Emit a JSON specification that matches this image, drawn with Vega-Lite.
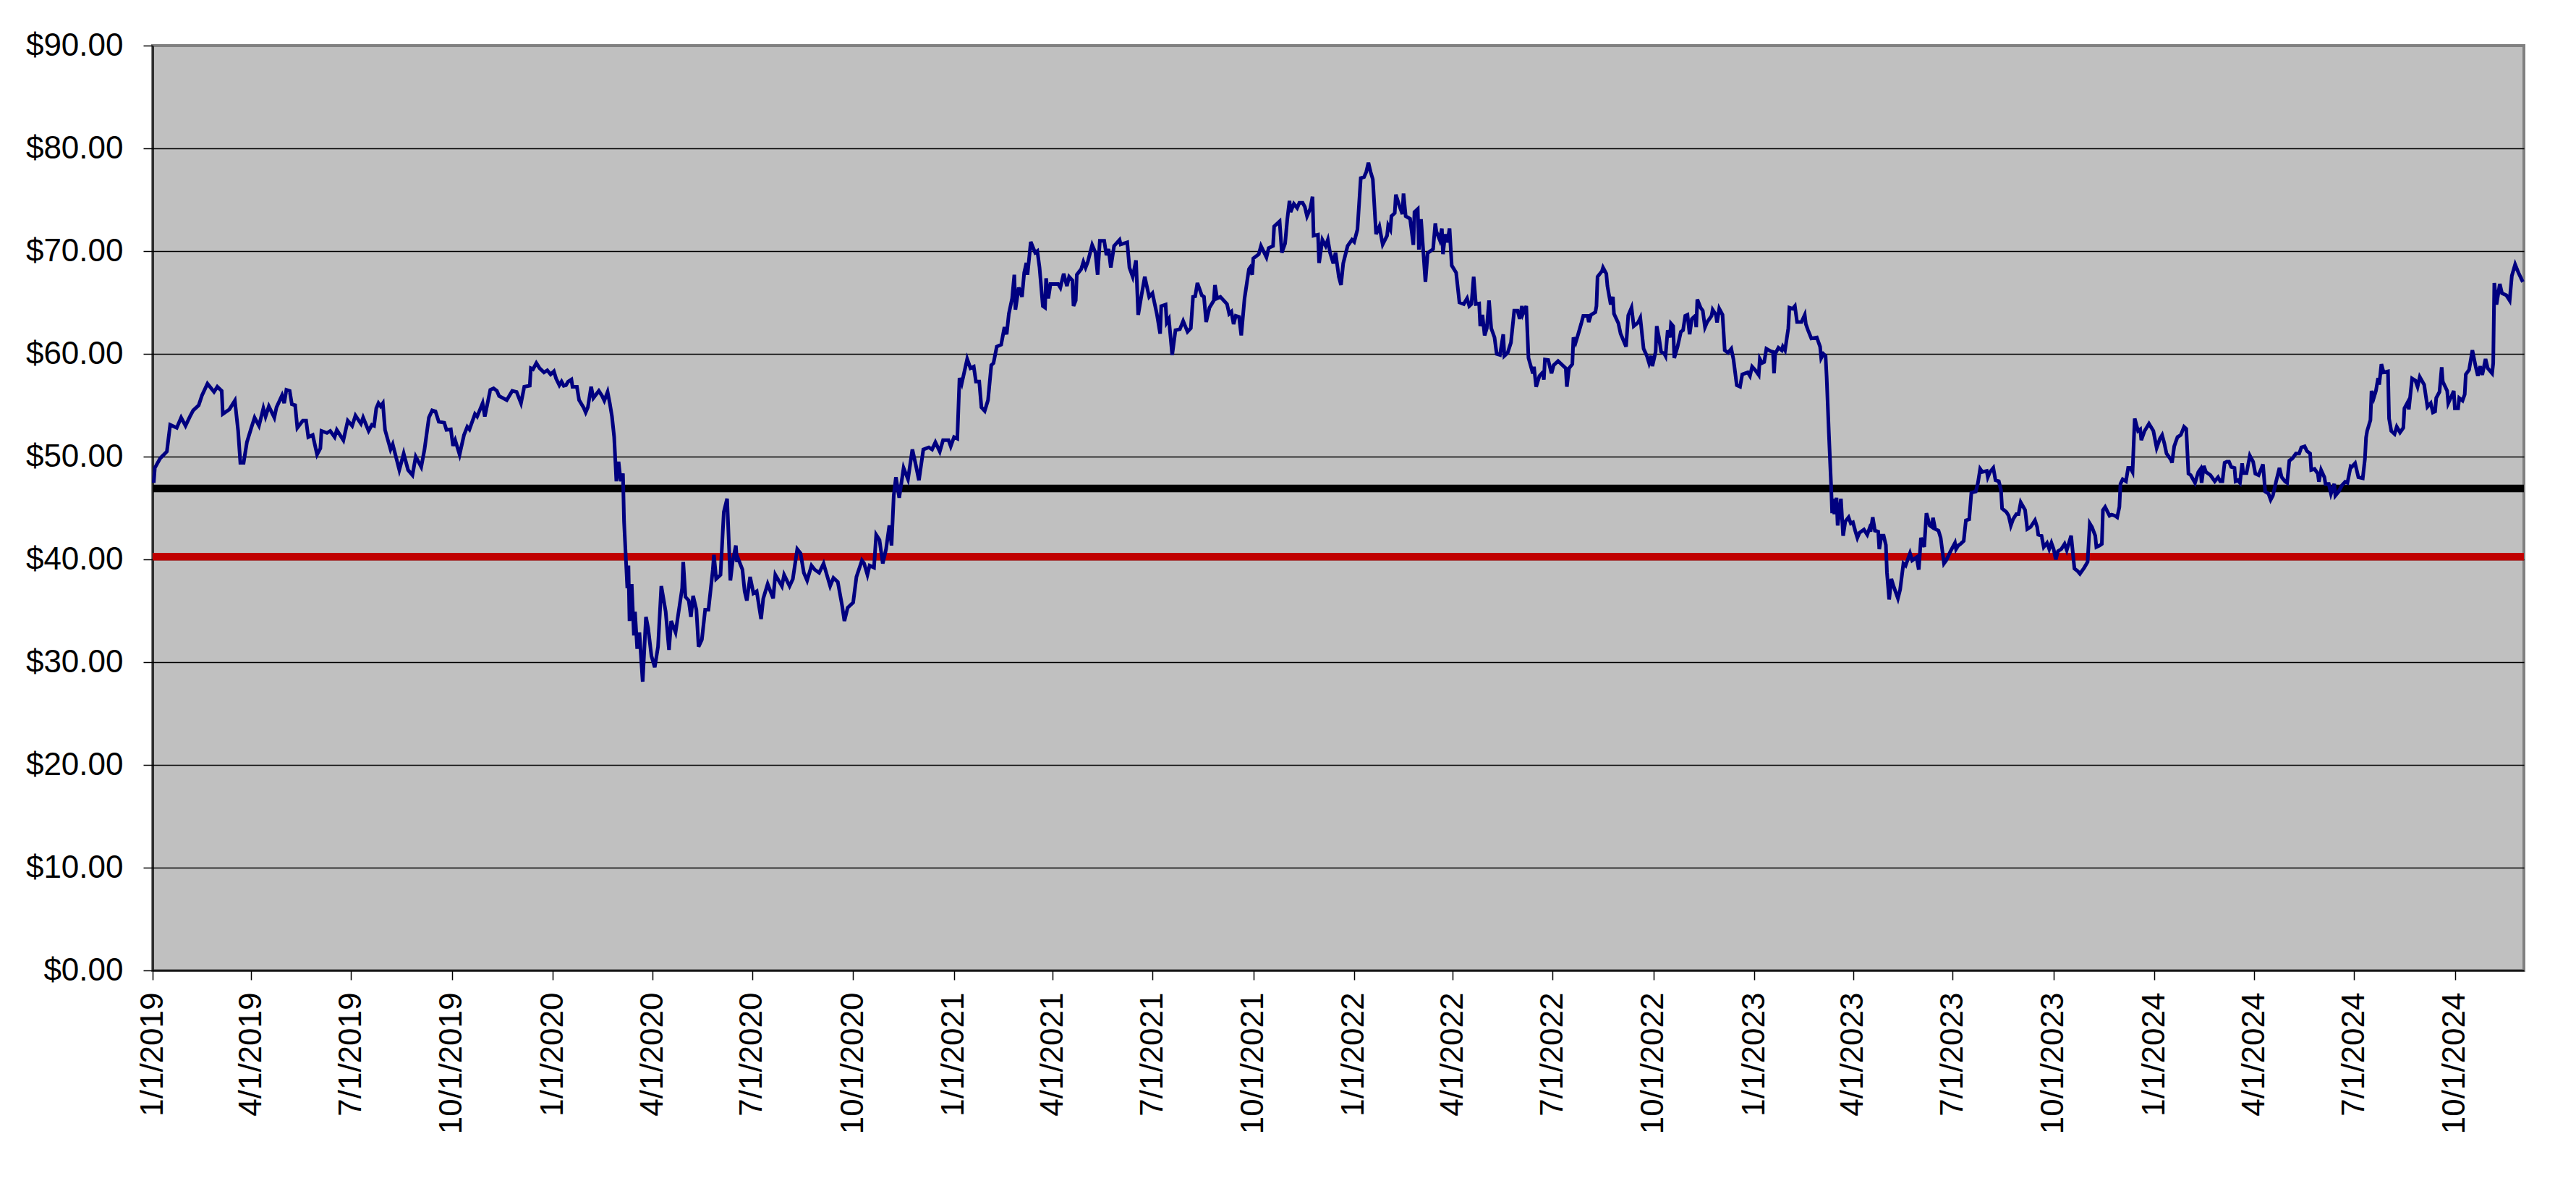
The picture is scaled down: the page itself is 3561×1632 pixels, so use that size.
{
  "$schema": "https://vega.github.io/schema/vega-lite/v6.json",
  "width": 3278,
  "height": 1278,
  "autosize": "none",
  "padding": {"left": 211, "top": 63, "right": 72, "bottom": 291},
  "background": "#ffffff",
  "datasets": {
    "close": [
      {"date":"2019-01-02","price":47.45},{"date":"2019-01-03","price":48.9},{"date":"2019-01-08","price":49.85},{"date":"2019-01-14","price":50.5},
      {"date":"2019-01-17","price":53.1},{"date":"2019-01-23","price":52.8},{"date":"2019-01-27","price":53.8},{"date":"2019-01-31","price":53.0},
      {"date":"2019-02-04","price":53.9},{"date":"2019-02-07","price":54.5},{"date":"2019-02-12","price":55.0},{"date":"2019-02-15","price":55.95},
      {"date":"2019-02-20","price":57.1},{"date":"2019-02-26","price":56.3},{"date":"2019-03-01","price":56.8},{"date":"2019-03-05","price":56.4},
      {"date":"2019-03-06","price":54.15},{"date":"2019-03-12","price":54.6},{"date":"2019-03-17","price":55.45},{"date":"2019-03-20","price":52.5},
      {"date":"2019-03-22","price":49.4},{"date":"2019-03-25","price":49.4},{"date":"2019-03-28","price":51.4},{"date":"2019-04-01","price":52.8},
      {"date":"2019-04-04","price":53.8},{"date":"2019-04-08","price":53.0},{"date":"2019-04-12","price":54.7},{"date":"2019-04-14","price":53.9},
      {"date":"2019-04-17","price":54.9},{"date":"2019-04-22","price":53.8},{"date":"2019-04-24","price":54.8},{"date":"2019-04-29","price":55.95},
      {"date":"2019-05-01","price":55.2},{"date":"2019-05-03","price":56.5},{"date":"2019-05-06","price":56.4},{"date":"2019-05-08","price":55.1},
      {"date":"2019-05-11","price":55.0},{"date":"2019-05-13","price":52.8},{"date":"2019-05-18","price":53.5},{"date":"2019-05-21","price":53.5},
      {"date":"2019-05-23","price":51.9},{"date":"2019-05-27","price":52.1},{"date":"2019-05-31","price":50.2},{"date":"2019-06-03","price":50.8},
      {"date":"2019-06-04","price":52.5},{"date":"2019-06-09","price":52.3},{"date":"2019-06-12","price":52.5},{"date":"2019-06-16","price":51.9},
      {"date":"2019-06-18","price":52.6},{"date":"2019-06-24","price":51.6},{"date":"2019-06-28","price":53.5},{"date":"2019-07-02","price":53.0},
      {"date":"2019-07-05","price":54.0},{"date":"2019-07-10","price":53.2},{"date":"2019-07-12","price":53.8},{"date":"2019-07-17","price":52.5},
      {"date":"2019-07-20","price":53.1},{"date":"2019-07-22","price":53.0},{"date":"2019-07-24","price":54.7},{"date":"2019-07-26","price":55.2},
      {"date":"2019-07-28","price":54.9},{"date":"2019-07-30","price":55.2},{"date":"2019-08-01","price":52.6},{"date":"2019-08-06","price":50.7},
      {"date":"2019-08-08","price":51.2},{"date":"2019-08-14","price":48.7},{"date":"2019-08-18","price":50.3},{"date":"2019-08-22","price":48.7},
      {"date":"2019-08-26","price":48.2},{"date":"2019-08-29","price":50.0},{"date":"2019-09-03","price":49.0},{"date":"2019-09-06","price":50.7},
      {"date":"2019-09-10","price":53.8},{"date":"2019-09-13","price":54.5},{"date":"2019-09-16","price":54.4},{"date":"2019-09-19","price":53.4},
      {"date":"2019-09-24","price":53.3},{"date":"2019-09-26","price":52.6},{"date":"2019-09-30","price":52.65},{"date":"2019-10-02","price":51.05},
      {"date":"2019-10-04","price":51.6},{"date":"2019-10-08","price":50.2},{"date":"2019-10-12","price":52.1},{"date":"2019-10-15","price":52.9},
      {"date":"2019-10-17","price":52.65},{"date":"2019-10-22","price":54.15},{"date":"2019-10-24","price":53.9},{"date":"2019-10-29","price":55.2},
      {"date":"2019-10-31","price":53.9},{"date":"2019-11-05","price":56.5},{"date":"2019-11-08","price":56.65},{"date":"2019-11-11","price":56.4},
      {"date":"2019-11-13","price":55.9},{"date":"2019-11-20","price":55.5},{"date":"2019-11-25","price":56.4},{"date":"2019-11-29","price":56.3},
      {"date":"2019-12-03","price":55.2},{"date":"2019-12-06","price":56.8},{"date":"2019-12-11","price":56.9},{"date":"2019-12-12","price":58.6},
      {"date":"2019-12-14","price":58.5},{"date":"2019-12-17","price":59.1},{"date":"2019-12-20","price":58.6},{"date":"2019-12-24","price":58.2},
      {"date":"2019-12-27","price":58.4},{"date":"2019-12-30","price":58.0},{"date":"2020-01-02","price":58.3},{"date":"2020-01-04","price":57.6},
      {"date":"2020-01-07","price":56.95},{"date":"2020-01-09","price":57.3},{"date":"2020-01-11","price":56.9},{"date":"2020-01-13","price":56.95},
      {"date":"2020-01-15","price":57.3},{"date":"2020-01-18","price":57.5},{"date":"2020-01-19","price":56.8},{"date":"2020-01-23","price":56.8},
      {"date":"2020-01-25","price":55.5},{"date":"2020-01-29","price":54.8},{"date":"2020-01-31","price":54.3},{"date":"2020-02-02","price":54.8},
      {"date":"2020-02-05","price":56.8},{"date":"2020-02-07","price":55.7},{"date":"2020-02-12","price":56.4},{"date":"2020-02-15","price":55.9},
      {"date":"2020-02-17","price":55.45},{"date":"2020-02-20","price":56.3},{"date":"2020-02-22","price":55.2},{"date":"2020-02-24","price":53.9},
      {"date":"2020-02-26","price":51.9},{"date":"2020-02-28","price":47.6},{"date":"2020-03-01","price":49.5},{"date":"2020-03-03","price":47.6},
      {"date":"2020-03-05","price":48.35},{"date":"2020-03-06","price":43.7},{"date":"2020-03-09","price":37.2},{"date":"2020-03-10","price":39.4},
      {"date":"2020-03-11","price":34.0},{"date":"2020-03-13","price":37.6},{"date":"2020-03-15","price":32.6},{"date":"2020-03-16","price":34.9},
      {"date":"2020-03-18","price":31.3},{"date":"2020-03-20","price":32.9},{"date":"2020-03-23","price":28.1},{"date":"2020-03-26","price":34.4},
      {"date":"2020-03-28","price":33.3},{"date":"2020-03-31","price":30.6},{"date":"2020-04-03","price":29.5},{"date":"2020-04-06","price":31.5},
      {"date":"2020-04-09","price":37.4},{"date":"2020-04-13","price":34.9},{"date":"2020-04-16","price":31.2},{"date":"2020-04-18","price":34.0},
      {"date":"2020-04-22","price":32.9},{"date":"2020-04-28","price":37.2},{"date":"2020-04-29","price":39.75},{"date":"2020-05-01","price":36.35},
      {"date":"2020-05-04","price":36.0},{"date":"2020-05-06","price":34.4},{"date":"2020-05-08","price":36.45},{"date":"2020-05-11","price":35.1},
      {"date":"2020-05-13","price":31.5},{"date":"2020-05-16","price":32.2},{"date":"2020-05-19","price":35.1},{"date":"2020-05-22","price":35.1},
      {"date":"2020-05-26","price":39.0},{"date":"2020-05-27","price":40.45},{"date":"2020-05-29","price":38.1},{"date":"2020-06-02","price":38.5},
      {"date":"2020-06-05","price":44.6},{"date":"2020-06-08","price":45.9},{"date":"2020-06-11","price":37.95},{"date":"2020-06-13","price":39.75},
      {"date":"2020-06-16","price":41.35},{"date":"2020-06-17","price":39.75},{"date":"2020-06-18","price":40.1},{"date":"2020-06-22","price":39.0},
      {"date":"2020-06-24","price":36.9},{"date":"2020-06-26","price":36.0},{"date":"2020-06-29","price":38.3},{"date":"2020-07-02","price":36.7},
      {"date":"2020-07-05","price":36.9},{"date":"2020-07-09","price":34.2},{"date":"2020-07-11","price":36.2},{"date":"2020-07-15","price":37.6},
      {"date":"2020-07-20","price":36.2},{"date":"2020-07-22","price":38.5},{"date":"2020-07-28","price":37.4},{"date":"2020-07-30","price":38.5},
      {"date":"2020-08-04","price":37.4},{"date":"2020-08-07","price":38.1},{"date":"2020-08-11","price":41.0},{"date":"2020-08-14","price":40.6},
      {"date":"2020-08-17","price":38.7},{"date":"2020-08-20","price":37.95},{"date":"2020-08-24","price":39.4},{"date":"2020-08-27","price":39.0},
      {"date":"2020-08-31","price":38.7},{"date":"2020-09-04","price":39.6},{"date":"2020-09-10","price":37.4},{"date":"2020-09-13","price":38.2},
      {"date":"2020-09-17","price":37.8},{"date":"2020-09-21","price":35.45},{"date":"2020-09-23","price":34.0},{"date":"2020-09-26","price":35.3},
      {"date":"2020-10-01","price":35.8},{"date":"2020-10-04","price":38.3},{"date":"2020-10-09","price":39.9},{"date":"2020-10-11","price":39.6},
      {"date":"2020-10-14","price":38.5},{"date":"2020-10-16","price":39.4},{"date":"2020-10-20","price":39.2},{"date":"2020-10-22","price":42.4},
      {"date":"2020-10-25","price":41.9},{"date":"2020-10-28","price":39.6},{"date":"2020-10-31","price":41.0},{"date":"2020-11-03","price":43.3},
      {"date":"2020-11-05","price":41.35},{"date":"2020-11-07","price":46.2},{"date":"2020-11-09","price":48.0},{"date":"2020-11-12","price":46.0},
      {"date":"2020-11-16","price":48.9},{"date":"2020-11-20","price":47.8},{"date":"2020-11-24","price":50.7},{"date":"2020-11-27","price":49.25},
      {"date":"2020-11-30","price":47.7},{"date":"2020-12-04","price":50.7},{"date":"2020-12-09","price":50.9},{"date":"2020-12-12","price":50.7},
      {"date":"2020-12-15","price":51.4},{"date":"2020-12-19","price":50.5},{"date":"2020-12-22","price":51.6},{"date":"2020-12-27","price":51.6},
      {"date":"2020-12-29","price":51.0},{"date":"2021-01-01","price":51.9},{"date":"2021-01-04","price":51.75},{"date":"2021-01-06","price":57.65},
      {"date":"2021-01-08","price":57.1},{"date":"2021-01-13","price":59.5},{"date":"2021-01-16","price":58.6},{"date":"2021-01-19","price":58.75},
      {"date":"2021-01-21","price":57.3},{"date":"2021-01-24","price":57.3},{"date":"2021-01-26","price":54.8},{"date":"2021-01-29","price":54.45},
      {"date":"2021-02-01","price":55.5},{"date":"2021-02-04","price":58.9},{"date":"2021-02-06","price":59.1},{"date":"2021-02-09","price":60.7},
      {"date":"2021-02-13","price":60.9},{"date":"2021-02-16","price":62.6},{"date":"2021-02-18","price":61.9},{"date":"2021-02-20","price":63.9},
      {"date":"2021-02-23","price":65.4},{"date":"2021-02-25","price":67.7},{"date":"2021-02-26","price":64.3},{"date":"2021-03-01","price":66.45},
      {"date":"2021-03-04","price":65.55},{"date":"2021-03-06","price":67.9},{"date":"2021-03-08","price":68.85},{"date":"2021-03-09","price":67.7},
      {"date":"2021-03-12","price":70.9},{"date":"2021-03-16","price":69.85},{"date":"2021-03-18","price":70.0},{"date":"2021-03-20","price":68.4},
      {"date":"2021-03-23","price":64.65},{"date":"2021-03-25","price":64.5},{"date":"2021-03-26","price":67.35},{"date":"2021-03-28","price":65.4},
      {"date":"2021-03-30","price":66.8},{"date":"2021-04-06","price":66.8},{"date":"2021-04-08","price":66.45},{"date":"2021-04-11","price":67.8},
      {"date":"2021-04-14","price":66.6},{"date":"2021-04-16","price":67.5},{"date":"2021-04-19","price":67.15},{"date":"2021-04-20","price":64.65},
      {"date":"2021-04-22","price":65.2},{"date":"2021-04-23","price":67.7},{"date":"2021-04-27","price":68.25},{"date":"2021-04-29","price":68.95},
      {"date":"2021-05-01","price":68.4},{"date":"2021-05-03","price":68.95},{"date":"2021-05-07","price":70.6},{"date":"2021-05-10","price":69.85},
      {"date":"2021-05-12","price":67.7},{"date":"2021-05-14","price":71.0},{"date":"2021-05-18","price":71.0},{"date":"2021-05-20","price":69.6},
      {"date":"2021-05-22","price":70.2},{"date":"2021-05-24","price":68.4},{"date":"2021-05-27","price":70.5},{"date":"2021-06-01","price":71.1},
      {"date":"2021-06-02","price":70.65},{"date":"2021-06-08","price":70.85},{"date":"2021-06-10","price":68.4},{"date":"2021-06-13","price":67.5},
      {"date":"2021-06-16","price":69.1},{"date":"2021-06-18","price":63.8},{"date":"2021-06-21","price":65.7},{"date":"2021-06-24","price":67.5},
      {"date":"2021-06-28","price":65.55},{"date":"2021-07-01","price":65.9},{"date":"2021-07-05","price":63.9},{"date":"2021-07-08","price":61.97},
      {"date":"2021-07-09","price":64.65},{"date":"2021-07-13","price":64.8},{"date":"2021-07-14","price":63.05},{"date":"2021-07-16","price":63.4},
      {"date":"2021-07-19","price":59.9},{"date":"2021-07-22","price":62.3},{"date":"2021-07-26","price":62.4},{"date":"2021-07-29","price":63.2},
      {"date":"2021-08-02","price":62.15},{"date":"2021-08-05","price":62.5},{"date":"2021-08-07","price":65.55},{"date":"2021-08-09","price":65.6},
      {"date":"2021-08-11","price":66.9},{"date":"2021-08-15","price":65.7},{"date":"2021-08-17","price":65.55},{"date":"2021-08-19","price":63.1},
      {"date":"2021-08-22","price":64.5},{"date":"2021-08-26","price":65.2},{"date":"2021-08-27","price":66.7},{"date":"2021-08-29","price":65.4},
      {"date":"2021-09-01","price":65.55},{"date":"2021-09-07","price":64.85},{"date":"2021-09-09","price":63.9},{"date":"2021-09-11","price":64.1},
      {"date":"2021-09-13","price":62.9},{"date":"2021-09-15","price":63.7},{"date":"2021-09-18","price":63.6},{"date":"2021-09-20","price":61.8},
      {"date":"2021-09-23","price":65.4},{"date":"2021-09-27","price":68.25},{"date":"2021-09-28","price":68.4},{"date":"2021-09-30","price":67.7},
      {"date":"2021-10-01","price":69.3},{"date":"2021-10-06","price":69.7},{"date":"2021-10-08","price":70.5},{"date":"2021-10-13","price":69.4},
      {"date":"2021-10-15","price":70.3},{"date":"2021-10-19","price":70.5},{"date":"2021-10-20","price":72.4},{"date":"2021-10-25","price":72.9},
      {"date":"2021-10-27","price":69.85},{"date":"2021-10-30","price":70.75},{"date":"2021-11-01","price":73.1},{"date":"2021-11-03","price":74.9},
      {"date":"2021-11-04","price":73.8},{"date":"2021-11-07","price":74.6},{"date":"2021-11-10","price":74.2},{"date":"2021-11-12","price":74.7},
      {"date":"2021-11-15","price":74.7},{"date":"2021-11-17","price":74.3},{"date":"2021-11-19","price":73.4},{"date":"2021-11-22","price":74.15},
      {"date":"2021-11-24","price":75.3},{"date":"2021-11-25","price":71.5},{"date":"2021-11-29","price":71.6},{"date":"2021-11-30","price":68.85},
      {"date":"2021-12-03","price":71.1},{"date":"2021-12-06","price":70.5},{"date":"2021-12-08","price":71.1},{"date":"2021-12-10","price":69.85},
      {"date":"2021-12-13","price":68.8},{"date":"2021-12-15","price":69.85},{"date":"2021-12-18","price":67.5},{"date":"2021-12-20","price":66.7},
      {"date":"2021-12-22","price":68.8},{"date":"2021-12-26","price":70.5},{"date":"2021-12-30","price":71.1},{"date":"2022-01-01","price":70.9},
      {"date":"2022-01-04","price":72.1},{"date":"2022-01-05","price":73.8},{"date":"2022-01-07","price":77.1},{"date":"2022-01-10","price":77.2},
      {"date":"2022-01-12","price":77.7},{"date":"2022-01-14","price":78.6},{"date":"2022-01-16","price":77.7},{"date":"2022-01-18","price":77.0},
      {"date":"2022-01-21","price":71.65},{"date":"2022-01-24","price":72.4},{"date":"2022-01-27","price":70.65},{"date":"2022-01-31","price":71.5},
      {"date":"2022-02-01","price":72.5},{"date":"2022-02-03","price":72.1},{"date":"2022-02-04","price":73.4},{"date":"2022-02-07","price":73.7},
      {"date":"2022-02-08","price":75.5},{"date":"2022-02-11","price":74.5},{"date":"2022-02-14","price":73.6},{"date":"2022-02-15","price":75.6},
      {"date":"2022-02-17","price":73.4},{"date":"2022-02-21","price":73.15},{"date":"2022-02-24","price":70.6},{"date":"2022-02-25","price":73.8},
      {"date":"2022-02-28","price":74.1},{"date":"2022-03-01","price":70.15},{"date":"2022-03-03","price":73.1},{"date":"2022-03-07","price":67.0},
      {"date":"2022-03-09","price":69.8},{"date":"2022-03-14","price":70.2},{"date":"2022-03-16","price":72.7},{"date":"2022-03-17","price":71.9},
      {"date":"2022-03-20","price":71.1},{"date":"2022-03-22","price":72.2},{"date":"2022-03-23","price":69.7},{"date":"2022-03-25","price":71.65},
      {"date":"2022-03-27","price":70.85},{"date":"2022-03-29","price":72.2},{"date":"2022-03-31","price":68.6},{"date":"2022-04-04","price":67.9},
      {"date":"2022-04-07","price":65.0},{"date":"2022-04-11","price":64.85},{"date":"2022-04-14","price":65.4},{"date":"2022-04-16","price":64.65},
      {"date":"2022-04-18","price":64.85},{"date":"2022-04-20","price":67.5},{"date":"2022-04-22","price":64.85},{"date":"2022-04-25","price":64.9},
      {"date":"2022-04-26","price":62.7},{"date":"2022-04-28","price":63.8},{"date":"2022-04-30","price":61.8},{"date":"2022-05-02","price":62.5},
      {"date":"2022-05-04","price":65.2},{"date":"2022-05-06","price":62.5},{"date":"2022-05-09","price":61.6},{"date":"2022-05-11","price":60.0},
      {"date":"2022-05-14","price":59.9},{"date":"2022-05-17","price":61.9},{"date":"2022-05-18","price":59.8},{"date":"2022-05-21","price":60.1},
      {"date":"2022-05-24","price":61.1},{"date":"2022-05-27","price":64.2},{"date":"2022-05-30","price":64.2},{"date":"2022-06-01","price":63.4},
      {"date":"2022-06-03","price":64.65},{"date":"2022-06-04","price":63.9},{"date":"2022-06-07","price":64.65},{"date":"2022-06-09","price":59.6},
      {"date":"2022-06-13","price":58.1},{"date":"2022-06-14","price":58.75},{"date":"2022-06-16","price":56.8},{"date":"2022-06-19","price":57.85},
      {"date":"2022-06-22","price":58.2},{"date":"2022-06-23","price":57.5},{"date":"2022-06-24","price":59.45},{"date":"2022-06-27","price":59.4},
      {"date":"2022-06-30","price":58.1},{"date":"2022-07-02","price":58.9},{"date":"2022-07-06","price":59.3},{"date":"2022-07-13","price":58.6},
      {"date":"2022-07-14","price":56.8},{"date":"2022-07-16","price":58.6},{"date":"2022-07-19","price":59.0},{"date":"2022-07-20","price":61.6},
      {"date":"2022-07-22","price":61.1},{"date":"2022-07-24","price":61.8},{"date":"2022-07-27","price":62.9},{"date":"2022-07-29","price":63.7},
      {"date":"2022-08-02","price":63.7},{"date":"2022-08-03","price":63.1},{"date":"2022-08-05","price":63.8},{"date":"2022-08-09","price":64.05},
      {"date":"2022-08-10","price":64.65},{"date":"2022-08-11","price":67.5},{"date":"2022-08-15","price":68.05},{"date":"2022-08-16","price":68.4},
      {"date":"2022-08-19","price":67.8},{"date":"2022-08-20","price":66.6},{"date":"2022-08-23","price":64.8},{"date":"2022-08-25","price":65.55},
      {"date":"2022-08-26","price":63.9},{"date":"2022-08-30","price":62.98},{"date":"2022-09-01","price":61.97},{"date":"2022-09-06","price":60.7},
      {"date":"2022-09-08","price":63.75},{"date":"2022-09-11","price":64.5},{"date":"2022-09-13","price":62.7},{"date":"2022-09-17","price":63.05},
      {"date":"2022-09-19","price":63.5},{"date":"2022-09-22","price":60.5},{"date":"2022-09-25","price":59.8},{"date":"2022-09-27","price":59.1},
      {"date":"2022-09-29","price":59.8},{"date":"2022-09-30","price":58.8},{"date":"2022-10-03","price":60.2},{"date":"2022-10-04","price":62.7},
      {"date":"2022-10-06","price":61.6},{"date":"2022-10-08","price":60.2},{"date":"2022-10-11","price":60.0},{"date":"2022-10-12","price":59.8},
      {"date":"2022-10-14","price":62.3},{"date":"2022-10-16","price":61.6},{"date":"2022-10-17","price":62.95},{"date":"2022-10-19","price":62.7},
      {"date":"2022-10-20","price":59.6},{"date":"2022-10-23","price":60.7},{"date":"2022-10-26","price":62.15},{"date":"2022-10-28","price":62.3},
      {"date":"2022-10-30","price":63.7},{"date":"2022-11-01","price":63.8},{"date":"2022-11-03","price":61.9},{"date":"2022-11-05","price":63.4},
      {"date":"2022-11-08","price":63.7},{"date":"2022-11-09","price":62.6},{"date":"2022-11-10","price":65.3},{"date":"2022-11-13","price":64.5},
      {"date":"2022-11-15","price":64.2},{"date":"2022-11-17","price":62.6},{"date":"2022-11-19","price":63.1},{"date":"2022-11-23","price":63.7},
      {"date":"2022-11-24","price":64.3},{"date":"2022-11-27","price":63.8},{"date":"2022-11-28","price":63.05},{"date":"2022-11-30","price":64.4},
      {"date":"2022-12-03","price":63.8},{"date":"2022-12-05","price":60.35},{"date":"2022-12-08","price":60.1},{"date":"2022-12-11","price":60.5},
      {"date":"2022-12-13","price":59.45},{"date":"2022-12-16","price":56.95},{"date":"2022-12-19","price":56.8},{"date":"2022-12-21","price":58.0},
      {"date":"2022-12-26","price":58.2},{"date":"2022-12-28","price":57.85},{"date":"2022-12-30","price":58.75},{"date":"2023-01-02","price":58.4},
      {"date":"2023-01-05","price":57.95},{"date":"2023-01-06","price":59.5},{"date":"2023-01-08","price":59.1},{"date":"2023-01-10","price":59.2},
      {"date":"2023-01-12","price":60.5},{"date":"2023-01-16","price":60.25},{"date":"2023-01-18","price":60.2},{"date":"2023-01-19","price":58.1},
      {"date":"2023-01-20","price":60.0},{"date":"2023-01-23","price":60.6},{"date":"2023-01-26","price":60.35},{"date":"2023-01-27","price":60.7},
      {"date":"2023-01-29","price":60.35},{"date":"2023-02-01","price":62.5},{"date":"2023-02-02","price":64.5},{"date":"2023-02-05","price":64.4},
      {"date":"2023-02-07","price":64.65},{"date":"2023-02-09","price":63.1},{"date":"2023-02-13","price":63.1},{"date":"2023-02-16","price":63.8},
      {"date":"2023-02-17","price":62.9},{"date":"2023-02-19","price":62.3},{"date":"2023-02-22","price":61.5},{"date":"2023-02-27","price":61.6},
      {"date":"2023-03-02","price":60.7},{"date":"2023-03-03","price":59.6},{"date":"2023-03-05","price":60.0},{"date":"2023-03-07","price":59.8},
      {"date":"2023-03-08","price":57.7},{"date":"2023-03-10","price":52.3},{"date":"2023-03-12","price":47.3},{"date":"2023-03-13","price":44.5},
      {"date":"2023-03-14","price":45.9},{"date":"2023-03-15","price":44.4},{"date":"2023-03-17","price":46.0},{"date":"2023-03-18","price":43.3},
      {"date":"2023-03-21","price":45.9},{"date":"2023-03-23","price":42.3},{"date":"2023-03-25","price":43.7},{"date":"2023-03-28","price":44.1},
      {"date":"2023-03-30","price":43.5},{"date":"2023-04-01","price":43.6},{"date":"2023-04-03","price":42.8},{"date":"2023-04-05","price":42.1},
      {"date":"2023-04-07","price":42.6},{"date":"2023-04-11","price":42.9},{"date":"2023-04-14","price":42.4},{"date":"2023-04-16","price":43.0},
      {"date":"2023-04-17","price":42.7},{"date":"2023-04-19","price":44.1},{"date":"2023-04-21","price":42.8},{"date":"2023-04-24","price":42.7},
      {"date":"2023-04-25","price":41.0},{"date":"2023-04-27","price":42.3},{"date":"2023-04-29","price":42.3},{"date":"2023-05-01","price":41.4},
      {"date":"2023-05-02","price":38.7},{"date":"2023-05-04","price":36.1},{"date":"2023-05-06","price":38.1},{"date":"2023-05-08","price":37.4},
      {"date":"2023-05-12","price":36.2},{"date":"2023-05-14","price":37.05},{"date":"2023-05-17","price":39.6},{"date":"2023-05-19","price":39.4},
      {"date":"2023-05-23","price":40.6},{"date":"2023-05-25","price":39.9},{"date":"2023-05-29","price":40.2},{"date":"2023-05-31","price":39.0},
      {"date":"2023-06-02","price":42.1},{"date":"2023-06-05","price":41.2},{"date":"2023-06-07","price":44.5},{"date":"2023-06-10","price":43.3},
      {"date":"2023-06-12","price":43.15},{"date":"2023-06-13","price":44.05},{"date":"2023-06-15","price":42.95},{"date":"2023-06-18","price":42.8},
      {"date":"2023-06-20","price":42.1},{"date":"2023-06-23","price":39.6},{"date":"2023-06-25","price":39.9},{"date":"2023-06-29","price":40.8},
      {"date":"2023-07-01","price":41.2},{"date":"2023-07-03","price":41.6},{"date":"2023-07-04","price":41.0},{"date":"2023-07-06","price":41.35},
      {"date":"2023-07-08","price":41.5},{"date":"2023-07-11","price":41.8},{"date":"2023-07-13","price":43.8},{"date":"2023-07-16","price":43.9},
      {"date":"2023-07-18","price":46.5},{"date":"2023-07-22","price":46.6},{"date":"2023-07-24","price":47.45},{"date":"2023-07-26","price":48.8},
      {"date":"2023-07-28","price":48.5},{"date":"2023-08-01","price":48.6},{"date":"2023-08-02","price":48.0},{"date":"2023-08-04","price":48.5},
      {"date":"2023-08-07","price":48.9},{"date":"2023-08-09","price":47.7},{"date":"2023-08-12","price":47.6},{"date":"2023-08-14","price":46.75},
      {"date":"2023-08-15","price":44.95},{"date":"2023-08-19","price":44.6},{"date":"2023-08-21","price":44.25},{"date":"2023-08-23","price":43.3},
      {"date":"2023-08-25","price":43.9},{"date":"2023-08-28","price":44.4},{"date":"2023-08-30","price":44.4},{"date":"2023-09-01","price":45.55},
      {"date":"2023-09-05","price":44.8},{"date":"2023-09-07","price":42.95},{"date":"2023-09-10","price":43.15},{"date":"2023-09-14","price":43.8},
      {"date":"2023-09-16","price":43.15},{"date":"2023-09-17","price":42.4},{"date":"2023-09-20","price":42.3},{"date":"2023-09-22","price":41.2},
      {"date":"2023-09-25","price":41.6},{"date":"2023-09-27","price":41.0},{"date":"2023-09-29","price":41.6},{"date":"2023-10-01","price":41.0},
      {"date":"2023-10-03","price":40.0},{"date":"2023-10-05","price":40.8},{"date":"2023-10-08","price":41.0},{"date":"2023-10-11","price":41.5},
      {"date":"2023-10-13","price":40.9},{"date":"2023-10-17","price":42.3},{"date":"2023-10-20","price":39.1},{"date":"2023-10-23","price":38.85},
      {"date":"2023-10-25","price":38.6},{"date":"2023-10-29","price":39.2},{"date":"2023-11-01","price":39.75},{"date":"2023-11-03","price":43.5},
      {"date":"2023-11-05","price":43.15},{"date":"2023-11-08","price":42.3},{"date":"2023-11-09","price":41.2},{"date":"2023-11-12","price":41.35},
      {"date":"2023-11-14","price":41.5},{"date":"2023-11-15","price":44.8},{"date":"2023-11-17","price":45.1},{"date":"2023-11-21","price":44.25},
      {"date":"2023-11-23","price":44.35},{"date":"2023-11-26","price":44.25},{"date":"2023-11-28","price":44.1},{"date":"2023-11-30","price":45.1},
      {"date":"2023-12-01","price":47.35},{"date":"2023-12-03","price":47.8},{"date":"2023-12-06","price":47.6},{"date":"2023-12-08","price":48.9},
      {"date":"2023-12-10","price":48.9},{"date":"2023-12-12","price":48.5},{"date":"2023-12-14","price":53.7},{"date":"2023-12-17","price":52.5},
      {"date":"2023-12-19","price":52.65},{"date":"2023-12-20","price":51.6},{"date":"2023-12-23","price":52.5},{"date":"2023-12-27","price":53.2},
      {"date":"2023-12-31","price":52.5},{"date":"2024-01-03","price":50.85},{"date":"2024-01-06","price":51.75},{"date":"2024-01-08","price":52.1},
      {"date":"2024-01-10","price":51.3},{"date":"2024-01-12","price":50.3},{"date":"2024-01-16","price":49.7},{"date":"2024-01-17","price":49.4},
      {"date":"2024-01-19","price":51.0},{"date":"2024-01-22","price":51.9},{"date":"2024-01-25","price":52.1},{"date":"2024-01-28","price":52.9},
      {"date":"2024-01-30","price":52.7},{"date":"2024-02-01","price":48.35},{"date":"2024-02-03","price":48.2},{"date":"2024-02-07","price":47.45},
      {"date":"2024-02-10","price":48.5},{"date":"2024-02-12","price":48.8},{"date":"2024-02-13","price":47.45},{"date":"2024-02-15","price":49.1},
      {"date":"2024-02-17","price":48.5},{"date":"2024-02-21","price":48.2},{"date":"2024-02-25","price":47.6},{"date":"2024-02-28","price":48.0},
      {"date":"2024-03-01","price":47.6},{"date":"2024-03-03","price":47.6},{"date":"2024-03-05","price":49.4},{"date":"2024-03-07","price":49.5},
      {"date":"2024-03-09","price":49.5},{"date":"2024-03-11","price":49.0},{"date":"2024-03-14","price":48.9},{"date":"2024-03-15","price":47.6},
      {"date":"2024-03-17","price":47.7},{"date":"2024-03-19","price":47.45},{"date":"2024-03-21","price":49.35},{"date":"2024-03-22","price":48.4},
      {"date":"2024-03-25","price":48.4},{"date":"2024-03-28","price":50.1},{"date":"2024-03-31","price":49.5},{"date":"2024-04-02","price":48.35},
      {"date":"2024-04-05","price":48.2},{"date":"2024-04-09","price":49.25},{"date":"2024-04-11","price":46.6},{"date":"2024-04-14","price":46.4},
      {"date":"2024-04-16","price":45.8},{"date":"2024-04-18","price":46.2},{"date":"2024-04-21","price":47.6},{"date":"2024-04-24","price":48.9},
      {"date":"2024-04-26","price":48.0},{"date":"2024-04-29","price":47.6},{"date":"2024-05-01","price":47.45},{"date":"2024-05-03","price":49.6},
      {"date":"2024-05-06","price":49.85},{"date":"2024-05-09","price":50.3},{"date":"2024-05-12","price":50.3},{"date":"2024-05-14","price":50.9},
      {"date":"2024-05-17","price":51.0},{"date":"2024-05-19","price":50.55},{"date":"2024-05-22","price":50.3},{"date":"2024-05-23","price":48.7},
      {"date":"2024-05-26","price":48.8},{"date":"2024-05-29","price":48.35},{"date":"2024-05-30","price":47.55},{"date":"2024-06-01","price":48.7},
      {"date":"2024-06-04","price":48.0},{"date":"2024-06-05","price":47.35},{"date":"2024-06-08","price":47.35},{"date":"2024-06-10","price":46.4},
      {"date":"2024-06-13","price":47.35},{"date":"2024-06-14","price":46.2},{"date":"2024-06-17","price":46.6},{"date":"2024-06-20","price":47.2},
      {"date":"2024-06-23","price":47.55},{"date":"2024-06-25","price":47.45},{"date":"2024-06-28","price":49.05},{"date":"2024-06-29","price":49.0},
      {"date":"2024-07-02","price":49.35},{"date":"2024-07-05","price":48.0},{"date":"2024-07-09","price":47.9},{"date":"2024-07-11","price":49.8},
      {"date":"2024-07-12","price":51.85},{"date":"2024-07-13","price":52.5},{"date":"2024-07-16","price":53.55},{"date":"2024-07-17","price":56.4},
      {"date":"2024-07-19","price":55.7},{"date":"2024-07-21","price":56.4},{"date":"2024-07-23","price":57.65},{"date":"2024-07-24","price":57.0},
      {"date":"2024-07-26","price":59.0},{"date":"2024-07-28","price":58.2},{"date":"2024-08-01","price":58.3},{"date":"2024-08-02","price":53.7},
      {"date":"2024-08-04","price":52.5},{"date":"2024-08-07","price":52.2},{"date":"2024-08-09","price":52.9},{"date":"2024-08-12","price":52.35},
      {"date":"2024-08-15","price":52.8},{"date":"2024-08-16","price":54.7},{"date":"2024-08-19","price":55.3},{"date":"2024-08-20","price":54.6},
      {"date":"2024-08-23","price":57.6},{"date":"2024-08-26","price":57.4},{"date":"2024-08-28","price":56.8},{"date":"2024-08-30","price":57.75},
      {"date":"2024-09-03","price":57.0},{"date":"2024-09-06","price":54.85},{"date":"2024-09-09","price":55.2},{"date":"2024-09-11","price":54.3},
      {"date":"2024-09-13","price":54.4},{"date":"2024-09-14","price":55.7},{"date":"2024-09-17","price":56.3},{"date":"2024-09-19","price":58.7},
      {"date":"2024-09-20","price":57.3},{"date":"2024-09-24","price":56.4},{"date":"2024-09-25","price":55.2},{"date":"2024-09-28","price":55.9},
      {"date":"2024-09-30","price":56.4},{"date":"2024-10-01","price":54.7},{"date":"2024-10-04","price":54.7},{"date":"2024-10-05","price":55.7},
      {"date":"2024-10-08","price":55.45},{"date":"2024-10-10","price":56.05},{"date":"2024-10-11","price":58.0},{"date":"2024-10-14","price":58.45},
      {"date":"2024-10-17","price":60.35},{"date":"2024-10-20","price":58.75},{"date":"2024-10-22","price":57.85},{"date":"2024-10-24","price":58.8},
      {"date":"2024-10-26","price":57.95},{"date":"2024-10-29","price":59.5},{"date":"2024-10-31","price":58.6},{"date":"2024-11-04","price":58.1},
      {"date":"2024-11-05","price":59.1},{"date":"2024-11-06","price":66.9},{"date":"2024-11-08","price":64.8},{"date":"2024-11-11","price":66.8},
      {"date":"2024-11-13","price":65.9},{"date":"2024-11-17","price":65.7},{"date":"2024-11-20","price":65.2},{"date":"2024-11-22","price":67.6},
      {"date":"2024-11-25","price":68.7},{"date":"2024-11-28","price":67.9},{"date":"2024-12-02","price":67.0}
    ],
    "upper": [{"level": "upper", "price": 46.9}],
    "lower": [{"level": "lower", "price": 40.27}]
  },
  "config": {
    "font": "Liberation Sans",
    "view": {"fill": "#c0c0c0", "stroke": "#808080", "strokeWidth": 4},
    "axis": {
      "title": null,
      "labelFont": "Liberation Sans",
      "labelFontSize": 44,
      "labelLimit": 0,
      "labelColor": "#000000",
      "tickColor": "#000000",
      "tickWidth": 1.5,
      "tickSize": 13,
      "domainColor": "#000000",
      "domainWidth": 2
    }
  },
  "layer": [
    {
      "data": {"name": "upper"},
      "mark": {"type": "rule", "color": "#000000", "strokeWidth": 10.5},
      "encoding": {
        "y": {
          "field": "price",
          "type": "quantitative",
          "scale": {"domain": [0, 90], "nice": false, "zero": true},
          "axis": {
            "values": [0, 10, 20, 30, 40, 50, 60, 70, 80, 90],
            "format": "$.2f",
            "labelPadding": 28,
            "grid": true,
            "gridColor": {"condition": {"test": "datum.value === 0 || datum.value === 90", "value": null}, "value": "#000000"},
            "gridWidth": 1.3
          }
        }
      }
    },
    {
      "data": {"name": "lower"},
      "mark": {"type": "rule", "color": "#c00000", "strokeWidth": 10.5},
      "encoding": {
        "y": {"field": "price", "type": "quantitative"}
      }
    },
    {
      "data": {"name": "close"},
      "mark": {"type": "line", "color": "#000080", "strokeWidth": 5},
      "encoding": {
        "x": {
          "field": "date",
          "type": "temporal",
          "scale": {"type": "utc", "domain": ["2019-01-01", "2024-12-03"], "nice": false},
          "axis": {
            "tickCount": {"interval": "month", "step": 3},
            "format": "%-m/%-d/%Y",
            "labelAngle": 270,
            "labelPadding": 17,
            "labelOverlap": false,
            "labelFlush": false,
            "labelLimit": 0,
            "grid": false
          }
        },
        "y": {"field": "price", "type": "quantitative"}
      }
    }
  ]
}
